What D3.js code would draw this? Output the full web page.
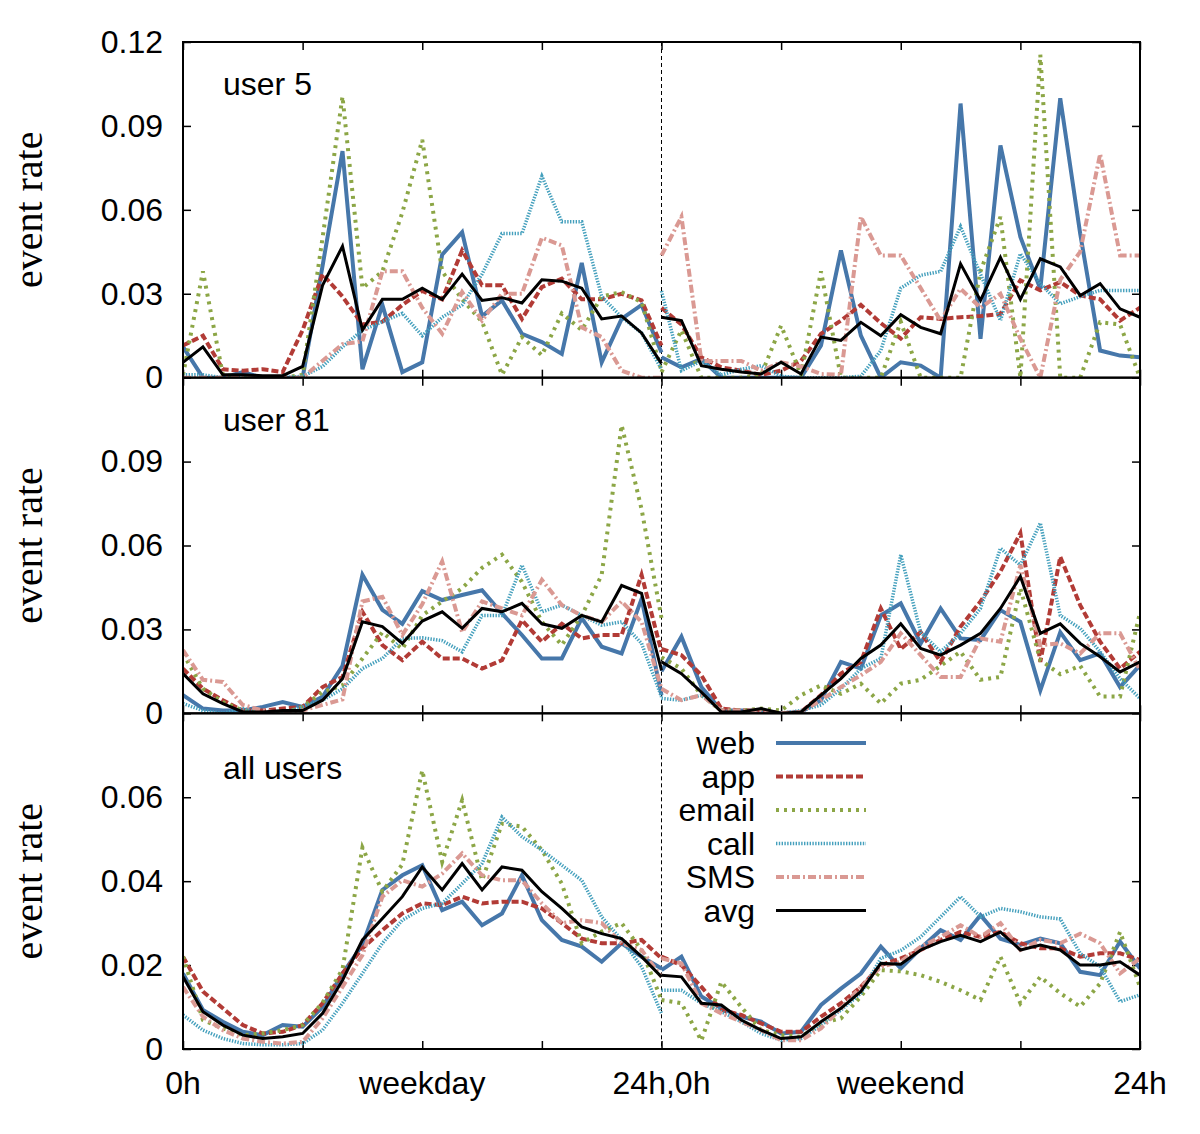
<!DOCTYPE html>
<html><head><meta charset="utf-8">
<script src="https://cdn.jsdelivr.net/npm/d3@7"></script>
<style>body{margin:0;background:#fff}</style>
</head><body><svg id="c" width="1200" height="1134"></svg>
<script>
// ---------- DATA ----------
const hours = d3.range(25); // 0..24 h within each half (weekday / weekend)
const seriesNames = ["web", "app", "email", "call", "SMS", "avg"];
const panelLabels = ["user 5", "user 81", "all users"];
const xTickLabels = ["0h", "weekday", "24h,0h", "weekend", "24h"];
const yTicksTop = [0, 0.03, 0.06, 0.09, 0.12];
const yTicksMid = [0, 0.03, 0.06, 0.09];
const yTicksBot = [0, 0.02, 0.04, 0.06];

// user 5 — weekday
const u5_web_wd   = [0.011,0,0,0.002,0,0,0,0.04,0.081,0.003,0.026,0.002,0.0055,0.044,0.052,0.022,0.0276,0.0157,0.0127,0.0085,0.041,0.0055,0.021,0.026,0.009];
const u5_app_wd   = [0.0115,0.015,0.003,0.0025,0.003,0.002,0.017,0.037,0.029,0.019,0.02,0.026,0.031,0.028,0.0455,0.033,0.033,0.021,0.0324,0.0354,0.028,0.028,0.030,0.0276,0.0115];
const u5_email_wd = [0.001,0.038,0.001,0,0,0,0.001,0.05,0.1005,0.032,0.038,0.059,0.085,0.038,0.028,0.02,0.001,0.0145,0.008,0.023,0.017,0.029,0.0306,0.027,0.0025];
const u5_call_wd  = [0.001,0.001,0,0,0,0,0.0005,0.004,0.011,0.017,0.02,0.023,0.015,0.0216,0.026,0.037,0.0515,0.0515,0.072,0.0557,0.0557,0.029,0.0216,0.016,0.003];
const u5_sms_wd   = [0,0,0,0,0,0,0,0.006,0.012,0.013,0.038,0.038,0.025,0.0157,0.0306,0.0204,0.03,0.03,0.05,0.0473,0.018,0.0145,0.0025,0,0];
const u5_avg_wd   = [0.0055,0.011,0.001,0.001,0.0007,0.0007,0.004,0.033,0.047,0.017,0.028,0.028,0.032,0.028,0.037,0.0276,0.0286,0.0267,0.035,0.0345,0.032,0.021,0.022,0.016,0.005];
// user 5 — weekend
const u5_web_we   = [0.0073,0.0037,0.0067,0,0,0,0,0,0.0115,0.0455,0.015,0,0.0055,0.0043,0,0.098,0.0139,0.083,0.0503,0.0318,0.0999,0.0515,0.0097,0.0079,0.0073];
const u5_app_we   = [0.025,0.019,0.0073,0.0037,0.0025,0.001,0.0025,0.006,0.0157,0.0204,0.026,0.0195,0.014,0.0216,0.021,0.0216,0.022,0.0228,0.0348,0.0312,0.0342,0.0294,0.028,0.0204,0.025];
const u5_email_we = [0.002,0.017,0,0,0,0.001,0.0186,0.001,0.038,0,0,0,0.02,0,0,0,0.038,0.0575,0,0.1155,0,0,0.0198,0.019,0];
const u5_call_we  = [0.031,0.0025,0.006,0.001,0.003,0.0043,0.0005,0,0,0,0.0005,0.0097,0.032,0.0366,0.038,0.054,0.037,0.0204,0.0443,0.0336,0.0264,0.029,0.0312,0.0312,0.0312];
const u5_sms_we   = [0.0437,0.0575,0.006,0.006,0.006,0.0025,0.0055,0.004,0.0013,0.001,0.0575,0.0437,0.0437,0.032,0.0204,0.0318,0.025,0.03,0.0139,0,0.035,0.045,0.080,0.0437,0.0437];
const u5_avg_we   = [0.0216,0.0204,0.0043,0.003,0.002,0.0013,0.0055,0.0013,0.0145,0.0133,0.0198,0.015,0.0225,0.018,0.0157,0.0407,0.0276,0.043,0.028,0.0425,0.0396,0.0294,0.0336,0.0246,0.0216];

// user 81 — weekday
const u81_web_wd   = [0.0065,0.0017,0.001,0.001,0.0023,0.004,0.0023,0.0059,0.017,0.0495,0.037,0.032,0.0437,0.0405,0.0423,0.044,0.0357,0.028,0.0196,0.0196,0.034,0.0238,0.0214,0.0409,0.0065];
const u81_app_wd   = [0.016,0.0088,0.0047,0.001,0.001,0.0017,0.0023,0.0094,0.013,0.0363,0.0244,0.019,0.0256,0.0196,0.0196,0.016,0.019,0.0333,0.0256,0.032,0.0268,0.028,0.028,0.0495,0.022];
const u81_email_wd = [0.0214,0.0088,0.004,0.001,0,0,0.0023,0.0076,0.01,0.0196,0.029,0.023,0.035,0.04,0.0447,0.052,0.0567,0.047,0.0327,0.0244,0.035,0.0495,0.103,0.073,0.034];
const u81_call_wd  = [0.0035,0.001,0,0.0017,0,0,0.0023,0.0047,0.0088,0.016,0.0196,0.0268,0.027,0.026,0.022,0.035,0.035,0.053,0.0363,0.0387,0.035,0.0315,0.0327,0.025,0.0059];
const u81_sms_wd   = [0.0226,0.012,0.0112,0.003,0.001,0,0.001,0.003,0.005,0.040,0.0417,0.028,0.039,0.0543,0.029,0.04,0.0375,0.035,0.0477,0.0387,0.035,0.0327,0.04,0.0327,0.0088];
const u81_avg_wd   = [0.0142,0.007,0.0035,0.0005,0.0005,0.001,0.001,0.0047,0.0124,0.0327,0.031,0.025,0.033,0.0363,0.0304,0.0375,0.0363,0.0393,0.032,0.0304,0.035,0.0327,0.0457,0.0429,0.0154];
// user 81 — weekend
const u81_web_we   = [0.015,0.0274,0.0094,0.001,0.001,0.001,0,0.0005,0.0047,0.0184,0.016,0.035,0.0393,0.025,0.0375,0.0268,0.0262,0.0369,0.0327,0.0082,0.029,0.019,0.0214,0.0094,0.0172];
const u81_app_we   = [0.023,0.0208,0.0136,0.0017,0.001,0.001,0,0.0005,0.0065,0.0142,0.0184,0.0375,0.023,0.029,0.0184,0.031,0.04,0.0507,0.0644,0.0184,0.056,0.0387,0.0256,0.016,0.022];
const u81_email_we = [0.02,0.016,0.0065,0.001,0.001,0.0017,0.001,0.0065,0.01,0.007,0.0106,0.0035,0.0106,0.012,0.017,0.022,0.012,0.013,0.0447,0.019,0.014,0.017,0.006,0.006,0.036];
const u81_call_we  = [0.0053,0.0047,0.0065,0.001,0,0,0,0.001,0.003,0.0088,0.016,0.0196,0.0567,0.029,0.022,0.0286,0.0375,0.059,0.053,0.068,0.035,0.0304,0.022,0.0124,0.0053];
const u81_sms_we   = [0.0088,0.0047,0.0065,0.001,0.001,0.001,0,0.0005,0.0047,0.0094,0.0136,0.0184,0.0286,0.0208,0.013,0.013,0.0268,0.0256,0.053,0.0244,0.025,0.0214,0.0286,0.0286,0.0154];
const u81_avg_we   = [0.0184,0.0142,0.0076,0.0005,0.0005,0.0017,0,0.0005,0.0065,0.0124,0.0196,0.0244,0.032,0.0232,0.0208,0.0244,0.0286,0.0375,0.0489,0.0286,0.032,0.025,0.0202,0.0148,0.0184];

// all users — weekday
const all_web_wd   = [0.018,0.0093,0.0065,0.0041,0.0033,0.0057,0.0053,0.01,0.018,0.0248,0.0379,0.0414,0.0438,0.0331,0.0351,0.0295,0.0323,0.0414,0.0307,0.026,0.0244,0.0208,0.0252,0.022,0.0192];
const all_app_wd   = [0.022,0.0137,0.0097,0.0057,0.0037,0.0041,0.0057,0.0109,0.018,0.024,0.0283,0.0323,0.0347,0.0343,0.0363,0.0347,0.0351,0.0351,0.0335,0.03,0.0263,0.0252,0.0252,0.026,0.0216];
const all_email_wd = [0.022,0.0069,0.0049,0.0033,0.0037,0.0045,0.0057,0.011,0.019,0.048,0.0375,0.044,0.0664,0.0446,0.0593,0.0402,0.0537,0.053,0.0474,0.0394,0.0252,0.028,0.03,0.0236,0.0117];
const all_call_wd  = [0.0081,0.0045,0.0025,0.0013,0.001,0.001,0.0013,0.0045,0.0109,0.018,0.0252,0.0307,0.0335,0.0347,0.0394,0.0442,0.0553,0.0506,0.0474,0.0438,0.0402,0.0315,0.026,0.0196,0.0085];
const all_sms_wd   = [0.0148,0.0077,0.0045,0.0025,0.0017,0.0013,0.0017,0.0073,0.0148,0.0224,0.0363,0.0402,0.0387,0.0418,0.0466,0.0414,0.0402,0.0402,0.0347,0.03,0.0307,0.03,0.0252,0.0236,0.0172];
const all_avg_wd   = [0.0172,0.0089,0.0057,0.0033,0.0025,0.0029,0.0037,0.0085,0.0164,0.026,0.0311,0.0363,0.0434,0.0379,0.0442,0.0379,0.0434,0.0426,0.0375,0.0335,0.0291,0.0275,0.0263,0.022,0.0172];
// all users — weekend
const all_web_we   = [0.0188,0.022,0.0125,0.0097,0.0077,0.0065,0.0037,0.0041,0.0105,0.0144,0.018,0.0244,0.0192,0.024,0.0283,0.026,0.0319,0.0263,0.0248,0.0263,0.0252,0.0184,0.0176,0.0256,0.0192];
const all_app_we   = [0.022,0.02,0.0148,0.0093,0.0081,0.0061,0.0041,0.0041,0.0077,0.0109,0.0148,0.02,0.0216,0.0236,0.026,0.0279,0.0267,0.0279,0.0252,0.024,0.024,0.022,0.0228,0.0228,0.0212];
const all_email_we = [0.0117,0.0109,0.002,0.016,0.01,0.0045,0.0033,0.0029,0.0061,0.0073,0.0125,0.0188,0.0185,0.0176,0.016,0.014,0.0117,0.022,0.0109,0.0172,0.0133,0.0101,0.0156,0.0279,0.0148];
const all_call_we  = [0.014,0.014,0.0109,0.0089,0.0065,0.0037,0.0021,0.0025,0.0057,0.0093,0.0133,0.0216,0.0235,0.0267,0.0315,0.0363,0.0315,0.0335,0.0327,0.0315,0.031,0.0228,0.0196,0.0113,0.0129];
const all_sms_we   = [0.0216,0.0204,0.0109,0.0085,0.0065,0.0045,0.0021,0.0021,0.0049,0.0097,0.0148,0.0196,0.0208,0.0244,0.0267,0.0295,0.0267,0.03,0.0236,0.026,0.0252,0.0275,0.0252,0.018,0.0216];
const all_avg_we   = [0.0176,0.0172,0.0109,0.0105,0.0069,0.0045,0.0025,0.0029,0.0065,0.0097,0.0137,0.0204,0.0202,0.0236,0.0256,0.0271,0.0256,0.0279,0.0236,0.0248,0.0236,0.02,0.02,0.0208,0.0176];

// ---------- BUILD ----------
const panels = [
  { label: panelLabels[0], max: 0.12, ticks: yTicksTop,
    series: [[u5_web_wd,u5_web_we],[u5_app_wd,u5_app_we],[u5_email_wd,u5_email_we],[u5_call_wd,u5_call_we],[u5_sms_wd,u5_sms_we],[u5_avg_wd,u5_avg_we]] },
  { label: panelLabels[1], max: 0.12, ticks: yTicksMid,
    series: [[u81_web_wd,u81_web_we],[u81_app_wd,u81_app_we],[u81_email_wd,u81_email_we],[u81_call_wd,u81_call_we],[u81_sms_wd,u81_sms_we],[u81_avg_wd,u81_avg_we]] },
  { label: panelLabels[2], max: 0.08, ticks: yTicksBot,
    series: [[all_web_wd,all_web_we],[all_app_wd,all_app_we],[all_email_wd,all_email_we],[all_call_wd,all_call_we],[all_sms_wd,all_sms_we],[all_avg_wd,all_avg_we]] }
];
const labelOffsets = [53, 53, 66];

const styles = [
  { color: "#4677aa", width: 4,   dash: null },
  { color: "#b23b36", width: 4,   dash: "7,3" },
  { color: "#8ca646", width: 4,   dash: "3,5" },
  { color: "#45a0bd", width: 3.5, dash: "1.4,1.4" },
  { color: "#da9993", width: 4,   dash: "8,3,2,3" },
  { color: "#000000", width: 3,   dash: null }
];

const svg = d3.select("#c");
const L = 183, R = 1140, T = 42, B = 1049;
const ph = (B - T) / 3;
const sans = "'Liberation Sans', Arial, Helvetica, sans-serif";
const serif = "'Liberation Serif', 'Times New Roman', serif";

const x = d3.scaleLinear().domain([0, 48]).range([L, R]);
const xTicks = d3.range(0, 49, 6);

panels.forEach((p, i) => {
  const top = T + i * ph, bot = top + ph;
  const y = d3.scaleLinear().domain([0, p.max]).range([bot, top]);
  const g = svg.append("g");

  const clipId = "clip" + i;
  svg.append("clipPath").attr("id", clipId).append("rect")
    .attr("x", L).attr("y", top - 2).attr("width", R - L).attr("height", ph + 2);

  // left axis
  const ax = g.append("g").attr("transform", `translate(${L},0)`)
    .call(d3.axisLeft(y).tickValues(p.ticks).tickSize(-8).tickPadding(20)
      .tickFormat(d => d === 0 ? "0" : d.toFixed(2)));
  ax.select(".domain").remove();
  ax.selectAll("line").attr("stroke", "#000").attr("stroke-width", 1.5);
  ax.selectAll("text").attr("font-family", sans).attr("font-size", 32).attr("fill", "#000");
  // right axis
  const axr = g.append("g").attr("transform", `translate(${R},0)`)
    .call(d3.axisRight(y).tickValues(p.ticks).tickSize(-8).tickFormat(""));
  axr.select(".domain").remove();
  axr.selectAll("line").attr("stroke", "#000").attr("stroke-width", 1.5);
  // bottom ticks
  const axb = g.append("g").attr("transform", `translate(0,${bot})`)
    .call(d3.axisBottom(x).tickValues(xTicks).tickSize(-8).tickFormat(""));
  axb.select(".domain").remove();
  axb.selectAll("line").attr("stroke", "#000").attr("stroke-width", 1.5);
  // top ticks
  const axt = g.append("g").attr("transform", `translate(0,${top})`)
    .call(d3.axisTop(x).tickValues(xTicks).tickSize(-8).tickFormat(""));
  axt.select(".domain").remove();
  axt.selectAll("line").attr("stroke", "#000").attr("stroke-width", 1.5);

  // y label
  g.append("text")
    .attr("transform", `translate(42,${(top + bot) / 2}) rotate(-90)`)
    .attr("text-anchor", "middle")
    .attr("font-family", serif).attr("font-size", 40).attr("fill", "#000")
    .text("event rate");

  // panel label
  g.append("text").attr("x", 223).attr("y", top + labelOffsets[i])
    .attr("font-family", sans).attr("font-size", 32).attr("fill", "#000")
    .text(p.label);

  // separator dashed line at 24h
  g.append("line").attr("x1", x(24)).attr("x2", x(24)).attr("y1", top).attr("y2", bot)
    .attr("stroke", "#000").attr("stroke-width", 1).attr("stroke-dasharray", "4,3");

  // series
  const lines = g.append("g").attr("clip-path", `url(#${clipId})`);
  p.series.forEach((halves, s) => {
    const st = styles[s];
    halves.forEach((vals, half) => {
      const line = d3.line().x((d, k) => x(hours[k] + 24 * half)).y(d => y(d));
      lines.append("path").datum(vals)
        .attr("d", line)
        .attr("fill", "none")
        .attr("stroke", st.color)
        .attr("stroke-width", st.width)
        .attr("stroke-linejoin", "miter")
        .attr("stroke-dasharray", st.dash);
    });
  });

  // frame
  g.append("rect").attr("x", L).attr("y", top).attr("width", R - L).attr("height", ph)
    .attr("fill", "none").attr("stroke", "#000").attr("stroke-width", 2);
});

// x labels
const xl = [0, 12, 24, 36, 48];
svg.append("g").selectAll("text").data(xl).join("text")
  .attr("x", d => x(d)).attr("y", B + 45)
  .attr("text-anchor", "middle")
  .attr("font-family", sans).attr("font-size", 32).attr("fill", "#000")
  .text((d, i) => xTickLabels[i]);

// legend (bottom panel)
const lg = svg.append("g");
seriesNames.forEach((n, s) => {
  const yy = 743 + s * 33.5;
  lg.append("text").attr("x", 755).attr("y", yy).attr("dy", "0.35em")
    .attr("text-anchor", "end")
    .attr("font-family", sans).attr("font-size", 32).attr("fill", "#000")
    .text(n);
  lg.append("line").attr("x1", 776).attr("x2", 866).attr("y1", yy).attr("y2", yy)
    .attr("stroke", styles[s].color).attr("stroke-width", styles[s].width)
    .attr("stroke-dasharray", styles[s].dash);
});
</script></body></html>
